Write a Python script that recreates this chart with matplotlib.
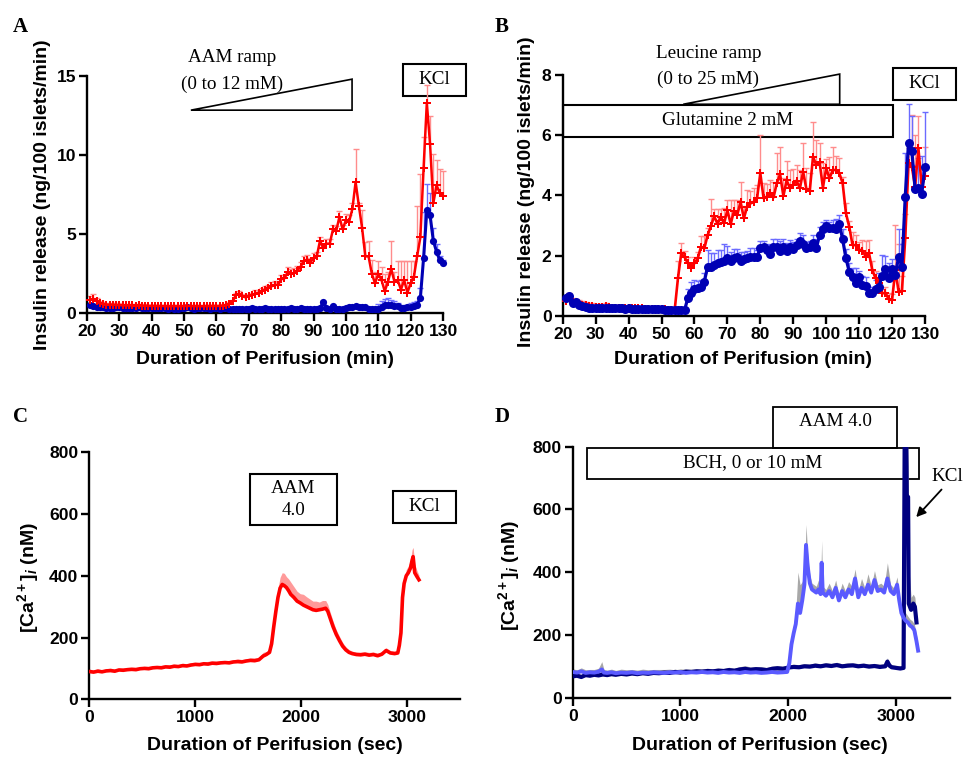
import numpy as np
import matplotlib
matplotlib.use("Agg")
import matplotlib.pyplot as plt
from matplotlib.patches import Rectangle, Polygon

plt.rcParams['font.family'] = ['Liberation Sans', 'DejaVu Sans']
plt.rcParams['font.weight'] = 'bold'
plt.rcParams['mathtext.fontset'] = 'custom'
plt.rcParams['mathtext.rm'] = 'Liberation Sans:bold'
plt.rcParams['mathtext.it'] = 'Liberation Sans:bold:italic'
plt.rcParams['mathtext.bf'] = 'Liberation Sans:bold'

# ---------------- data ----------------
minutes = list(range(21, 131))

a_red = [0.85, 0.9, 0.75, 0.65, 0.6, 0.55, 0.55, 0.55, 0.52, 0.52,
         0.5, 0.5, 0.5, 0.5, 0.48, 0.5, 0.48, 0.48, 0.47, 0.47,
         0.47, 0.46, 0.46, 0.46, 0.45, 0.45, 0.46, 0.45, 0.45, 0.46,
         0.47, 0.46, 0.45, 0.46, 0.45, 0.45, 0.46, 0.46, 0.47, 0.46,
         0.47, 0.48, 0.5, 0.6, 0.75, 1.15, 1.25, 1.1, 1.0, 1.1,
         1.15, 1.25, 1.3, 1.4, 1.5, 1.6, 1.7, 1.8, 1.8, 2.15,
         2.2, 2.6, 2.5, 2.55, 2.7, 2.95, 3.3, 3.4, 3.2, 3.5,
         3.6, 4.6, 4.1, 4.4, 4.4, 5.3, 5.2, 6.1, 5.3, 5.9,
         5.8, 6.6, 8.3, 6.8, 5.4, 3.6, 3.6, 2.5, 1.9, 2.5,
         2.1, 1.4, 2.0, 2.8, 2.0, 2.1, 1.5, 2.1, 1.3, 1.9,
         2.3, 3.6, 4.8, 9.16, 13.3, 10.7, 6.95, 8.1, 7.6, 7.4]
a_red_err = [0.25, 0.3, 0.2, 0.15, 0.12, 0.1, 0.1, 0.1, 0.1, 0.1,
             0.08, 0.08, 0.08, 0.08, 0.08, 0.08, 0.08, 0.08, 0.08, 0.08,
             0.08, 0.08, 0.08, 0.08, 0.08, 0.08, 0.08, 0.08, 0.08, 0.08,
             0.08, 0.08, 0.08, 0.08, 0.08, 0.08, 0.08, 0.08, 0.08, 0.08,
             0.08, 0.08, 0.08, 0.1, 0.1, 0.15, 0.15, 0.15, 0.15, 0.15,
             0.15, 0.2, 0.2, 0.2, 0.2, 0.2, 0.25, 0.25, 0.2, 0.25,
             0.25, 0.3, 0.3, 0.3, 0.3, 0.3, 0.35, 0.3, 0.3, 0.3,
             0.3, 0.25, 0.3, 0.3, 0.3, 0.3, 0.3, 0.35, 0.3, 0.4,
             0.4, 0.4, 2.1, 0.2, 1.1, 0.9, 0.95, 0.85, 0.7, 0.8,
             0.8, 1.1, 0.6, 1.8, 0.6, 1.2, 1.8, 1.2, 2.0, 1.4,
             1.0, 3.2, 4.0, 2.0, 1.1, 1.8, 3.1, 1.6, 1.5, 1.6]
a_blue = [0.5, 0.45, 0.4, 0.4, 0.38, 0.36, 0.35, 0.35, 0.4, 0.38,
          0.36, 0.34, 0.34, 0.33, 0.32, 0.38, 0.35, 0.33, 0.32, 0.32,
          0.32, 0.31, 0.33, 0.32, 0.3, 0.32, 0.3, 0.3, 0.31, 0.33,
          0.38, 0.33, 0.3, 0.32, 0.35, 0.36, 0.32, 0.3, 0.33, 0.32,
          0.3, 0.32, 0.33, 0.3, 0.3, 0.28, 0.3, 0.28, 0.3, 0.3,
          0.32, 0.3, 0.28, 0.3, 0.32, 0.3, 0.3, 0.29, 0.3, 0.3,
          0.3, 0.3, 0.32, 0.3, 0.3, 0.32, 0.3, 0.29, 0.3, 0.3,
          0.3, 0.32, 0.7, 0.35, 0.25, 0.45, 0.3, 0.28, 0.3, 0.32,
          0.38, 0.42, 0.45, 0.42, 0.4, 0.38, 0.3, 0.25, 0.28, 0.3,
          0.4, 0.5, 0.55, 0.5, 0.48, 0.45, 0.35, 0.33, 0.4, 0.42,
          0.45, 0.55, 0.95, 3.5, 6.5, 6.2, 4.6, 3.9, 3.35, 3.15]
a_blue_err = [0.1, 0.1, 0.08, 0.08, 0.08, 0.08, 0.08, 0.08, 0.08, 0.08,
              0.08, 0.08, 0.08, 0.08, 0.08, 0.08, 0.08, 0.08, 0.08, 0.08,
              0.08, 0.08, 0.08, 0.08, 0.08, 0.08, 0.08, 0.08, 0.08, 0.08,
              0.08, 0.08, 0.08, 0.08, 0.08, 0.08, 0.08, 0.08, 0.08, 0.08,
              0.08, 0.08, 0.08, 0.08, 0.08, 0.08, 0.08, 0.08, 0.08, 0.08,
              0.08, 0.08, 0.08, 0.08, 0.08, 0.08, 0.08, 0.08, 0.08, 0.08,
              0.08, 0.08, 0.08, 0.08, 0.08, 0.08, 0.08, 0.08, 0.08, 0.08,
              0.08, 0.08, 0.1, 0.08, 0.08, 0.08, 0.08, 0.08, 0.08, 0.1,
              0.1, 0.1, 0.1, 0.1, 0.1, 0.1, 0.1, 0.1, 0.1, 0.3,
              0.35, 0.4, 0.4, 0.35, 0.3, 0.2, 0.15, 0.15, 0.15, 0.2,
              0.25, 0.2, 0.65, 2.9, 1.7, 1.4, 0.8, 0.45, 0.3, 0.2]

b_red = [0.5, 0.6, 0.45, 0.42, 0.4, 0.38, 0.35, 0.33, 0.32, 0.3,
         0.3, 0.3, 0.32, 0.3, 0.28, 0.28, 0.28, 0.27, 0.27, 0.26,
         0.26, 0.25, 0.25, 0.25, 0.24, 0.24, 0.23, 0.23, 0.22, 0.22,
         0.22, 0.21, 0.2, 0.2, 1.26, 2.08, 1.95, 1.75, 1.6, 1.75,
         1.91, 2.3, 2.24, 2.68, 2.98, 3.31, 3.05, 3.29, 3.07, 3.51,
         3.05, 3.48, 3.35, 3.79, 3.24, 3.62, 3.73, 3.79, 3.9, 4.73,
         3.9, 3.96, 4.07, 3.93, 4.4, 4.7, 3.98, 4.5, 4.23, 4.34,
         4.49, 4.23, 4.78, 4.2, 4.15, 5.28, 5.0, 5.1, 4.26, 4.9,
         4.56, 4.84, 4.84, 4.73, 4.4, 3.4, 2.96, 2.35, 2.35, 2.2,
         2.17, 1.97, 2.08, 1.52, 1.25, 1.08, 0.75, 0.77, 0.55, 0.53,
         1.52, 0.8, 0.84, 2.57, 5.06, 4.95, 4.29, 5.56, 4.29, 4.64]
b_red_err = [0.12, 0.15, 0.15, 0.15, 0.12, 0.12, 0.12, 0.1, 0.1, 0.1,
             0.1, 0.1, 0.1, 0.08, 0.08, 0.08, 0.08, 0.08, 0.07, 0.07,
             0.07, 0.06, 0.06, 0.06, 0.06, 0.05, 0.05, 0.05, 0.05, 0.05,
             0.05, 0.05, 0.05, 0.05, 0.55, 0.33, 0.2, 0.2, 0.15, 0.2,
             0.2, 0.35, 0.4, 0.25, 0.9, 0.25, 0.5, 0.25, 0.5, 0.35,
             0.8, 0.35, 0.5, 0.65, 0.4, 0.55, 0.4, 0.45, 0.45, 1.27,
             0.5, 0.4, 0.45, 0.5, 1.0, 0.9, 0.6, 0.65, 0.6, 0.55,
             0.5, 0.6, 0.95, 0.7, 0.6, 1.15, 0.85, 0.65, 0.8, 0.3,
             0.7, 0.75, 0.45, 0.5, 0.2, 0.35, 0.2, 0.45, 0.35, 0.25,
             0.35, 0.5, 0.45, 0.3, 0.25, 0.2, 0.15, 0.2, 0.2, 0.2,
             1.5, 1.6, 0.5, 0.8, 0.5, 1.7, 1.7, 1.07, 0.6, 0.95]
b_blue = [0.6, 0.66, 0.42, 0.48, 0.38, 0.33, 0.3, 0.28, 0.27, 0.27,
          0.26, 0.28, 0.27, 0.26, 0.25, 0.25, 0.26, 0.25, 0.24, 0.25,
          0.24, 0.24, 0.23, 0.23, 0.22, 0.22, 0.23, 0.22, 0.22, 0.22,
          0.21, 0.21, 0.2, 0.2, 0.2, 0.2, 0.2, 0.59, 0.77, 0.88,
          0.92, 0.95, 1.14, 1.64, 1.64, 1.69, 1.75, 1.8, 1.83, 1.91,
          1.83, 1.93, 1.97, 1.83, 1.88, 1.91, 1.97, 1.97, 1.95, 2.24,
          2.28, 2.19, 2.06, 2.3, 2.3, 2.17, 2.3, 2.17, 2.28, 2.21,
          2.35, 2.5, 2.39, 2.24, 2.3, 2.43, 2.24, 2.69, 2.87, 2.99,
          2.93, 2.93, 2.9, 3.05, 2.54, 1.91, 1.47, 1.28, 1.08, 1.3,
          1.03, 0.99, 0.75, 0.77, 0.88, 0.97, 1.33, 1.55, 1.25, 1.55,
          1.36, 1.97, 1.64, 3.96, 5.75, 5.48, 4.2, 4.23, 4.04, 4.95]
b_blue_err = [0.05, 0.05, 0.05, 0.05, 0.04, 0.04, 0.04, 0.04, 0.04, 0.04,
              0.04, 0.04, 0.04, 0.04, 0.04, 0.04, 0.04, 0.04, 0.04, 0.04,
              0.04, 0.04, 0.04, 0.04, 0.04, 0.04, 0.04, 0.04, 0.04, 0.04,
              0.04, 0.04, 0.04, 0.04, 0.04, 0.04, 0.04, 0.3, 0.35, 0.3,
              0.25, 0.25, 0.3, 0.55, 0.45, 0.4, 0.45, 0.4, 0.55, 0.4,
              0.3, 0.3, 0.25, 0.3, 0.25, 0.25, 0.3, 0.3, 0.25, 0.25,
              0.2, 0.2, 0.3, 0.25, 0.25, 0.3, 0.25, 0.25, 0.25, 0.25,
              0.2, 0.25, 0.3, 0.2, 0.2, 0.25, 0.3, 0.25, 0.25, 0.2,
              0.2, 0.25, 0.3, 0.3, 0.35, 0.3, 0.3, 0.3, 0.5, 0.2,
              0.3, 0.3, 0.2, 0.2, 0.3, 0.45, 0.7, 0.45, 0.5, 0.35,
              0.3, 0.9, 0.75, 1.45, 1.28, 1.15, 0.8, 1.0, 1.25, 1.8]

c_time = [0, 40, 80, 120, 160, 200, 240, 280, 320, 360,
          400, 440, 480, 520, 560, 600, 640, 680, 720, 760,
          800, 840, 880, 920, 960, 1000, 1040, 1080, 1120, 1160,
          1200, 1240, 1280, 1320, 1360, 1400, 1440, 1480, 1520, 1560,
          1600, 1640, 1670, 1700, 1720, 1740, 1760, 1780, 1800, 1820,
          1840, 1860, 1880, 1900, 1930, 1960, 1990, 2020, 2050, 2080,
          2110, 2140, 2170, 2200, 2230, 2250, 2270, 2300, 2330, 2360,
          2390, 2420, 2450, 2480, 2520, 2560, 2600, 2640, 2680, 2720,
          2760, 2800, 2840, 2880, 2910, 2925, 2940, 2955, 2970, 2990,
          3010, 3030, 3045, 3055, 3070, 3090, 3110]
c_ca = [90, 88, 91, 89, 92, 93, 91, 95, 94, 96,
        97, 96, 99, 100, 99, 102, 103, 102, 105, 104,
        107, 106, 109, 108, 111, 113, 112, 115, 114, 117,
        116, 118, 119, 118, 121, 122, 121, 124, 126, 125,
        128, 140, 145, 152, 180, 235, 285, 330, 360, 372,
        368, 362, 352, 340, 330, 318, 312, 305, 300, 295,
        290, 288, 290, 292, 295, 285, 265, 235, 210, 190,
        172, 160, 152, 148, 145, 144, 146, 143, 145, 141,
        146, 158, 150, 148, 150, 175, 215, 330, 375, 400,
        410, 425, 450, 462, 410, 398, 387]
c_err = [8, 7, 8, 6, 7, 8, 7, 6, 8, 7,
         7, 8, 6, 7, 8, 7, 6, 8, 7, 8,
         7, 6, 8, 7, 8, 7, 8, 6, 9, 7,
         8, 7, 6, 8, 7, 9, 8, 7, 8, 9,
         8, 12, 10, 12, 15, 20, 25, 30, 35, 38,
         40, 35, 38, 40, 35, 32, 30, 35, 32, 30,
         28, 30, 25, 28, 25, 22, 20, 18, 15, 14,
         12, 10, 9, 8, 8, 9, 8, 9, 8, 9,
         8, 9, 8, 8, 9, 10, 12, 15, 18, 20,
         22, 25, 35, 30, 28, 20, 15]

d_time_ctrl = [0, 40, 80, 120, 160, 200, 240, 280, 320, 360,
               400, 450, 500, 550, 600, 650, 700, 750, 800, 850,
               900, 950, 1000, 1050, 1100, 1150, 1200, 1250, 1300, 1350,
               1400, 1450, 1500, 1550, 1600, 1650, 1700, 1750, 1800, 1850,
               1900, 1950, 2000, 2050, 2100, 2150, 2200, 2250, 2300, 2350,
               2400, 2450, 2500, 2550, 2600, 2650, 2700, 2750, 2800, 2850,
               2900, 2920, 2940, 2960, 3000, 3040, 3070, 3076, 3080, 3096,
               3100, 3112, 3118, 3140, 3160, 3175, 3190]
d_ca_ctrl = [68, 70, 66, 72, 70, 73, 71, 74, 72, 75,
             73, 76, 74, 77, 75, 78, 76, 79, 78, 80,
             79, 82, 80, 83, 82, 84, 83, 85, 84, 86,
             85, 88, 86, 90, 92, 89, 91, 90, 88, 92,
             94, 92, 96, 98, 97, 100, 99, 102, 100, 103,
             101, 104, 100, 102, 103, 100, 102, 99, 101, 98,
             100, 115, 102, 97, 95, 93, 95, 500, 800, 800,
             640, 640, 300, 280, 300, 290, 240]
d_err_ctrl = [8, 9, 8, 10, 8, 9, 8, 12, 8, 9,
              8, 9, 8, 9, 8, 9, 8, 9, 8, 9,
              8, 9, 8, 9, 8, 9, 8, 9, 8, 9,
              8, 9, 8, 9, 10, 9, 8, 9, 8, 9,
              8, 9, 8, 9, 8, 9, 8, 9, 8, 9,
              8, 9, 8, 9, 8, 9, 8, 9, 8, 9,
              8, 12, 9, 8, 8, 9, 8, 10, 10, 10,
              10, 170, 120, 40, 30, 30, 20]

d_time_bch = [0, 40, 80, 120, 160, 200, 240, 270, 290, 320,
              360, 400, 450, 500, 550, 600, 650, 700, 750, 800,
              850, 900, 950, 1000, 1050, 1100, 1150, 1200, 1250, 1300,
              1350, 1400, 1450, 1500, 1550, 1600, 1650, 1700, 1750, 1800,
              1850, 1900, 1950, 1990, 2010, 2030, 2050, 2070, 2090, 2110,
              2130, 2150, 2165, 2180, 2200, 2220, 2240, 2260, 2280, 2300,
              2310, 2320, 2350, 2380, 2410, 2440, 2470, 2500, 2530, 2560,
              2590, 2620, 2650, 2680, 2710, 2740, 2770, 2800, 2830, 2860,
              2890, 2920, 2950, 2980, 3010, 3030, 3050, 3070, 3090, 3110,
              3130, 3150, 3170, 3190, 3205]
d_ca_bch = [82, 80, 84, 79, 81, 80, 83, 90, 80, 79,
            81, 78, 80, 79, 81, 78, 80, 79, 81, 80,
            79, 81, 80, 82, 79, 81, 80, 82, 80, 81,
            79, 82, 80, 81, 79, 82, 80, 81, 79, 80,
            82, 80, 81, 82, 110, 170, 205, 235, 300, 270,
            310, 360, 487, 420, 365, 345, 340, 335, 345, 330,
            430, 335, 325, 340, 320, 350, 310, 340, 320, 345,
            330, 380, 320, 350, 330, 360, 335, 375, 340, 345,
            335, 380, 340, 330, 360, 310, 270, 255, 245, 240,
            230, 225, 215, 180, 150]
d_err_bch = [10, 9, 11, 10, 9, 10, 11, 25, 10, 9,
             10, 9, 11, 10, 9, 10, 11, 10, 9, 10,
             11, 10, 9, 10, 11, 10, 9, 10, 11, 10,
             9, 10, 11, 10, 9, 10, 11, 10, 9, 10,
             11, 10, 9, 10, 15, 20, 30, 40, 100, 90,
             60, 40, 65, 40, 25, 20, 20, 20, 30, 25,
             70, 20, 20, 25, 20, 25, 20, 25, 20, 25,
             25, 30, 20, 30, 20, 35, 20, 30, 20, 20,
             20, 50, 20, 20, 25, 20, 20, 30, 25, 20,
             20, 20, 20, 20, 15]

a_xticks = [20, 30, 40, 50, 60, 70, 80, 90, 100, 110, 120, 130]
a_yticks = [0, 5, 10, 15]
b_yticks = [0, 2, 4, 6, 8]
cd_xticks = [0, 1000, 2000, 3000]
cd_yticks = [0, 200, 400, 600, 800]

# ---------------- figure ----------------
W, H = 965, 757
fig = plt.figure(figsize=(W / 100, H / 100), dpi=100)


def ax_at(l, t, r, b):
    return fig.add_axes([l / W, 1 - b / H, (r - l) / W, (b - t) / H])


def style(ax):
    for s in ['top', 'right']:
        ax.spines[s].set_visible(False)
    for s in ['left', 'bottom']:
        ax.spines[s].set_linewidth(1.7)
    ax.tick_params(width=1.7, length=6, labelsize=12.6, pad=2)


SERIF = 'Liberation Serif'
RED = '#ff0000'
RED_E = '#ff8c8c'
BLUE = '#0000b4'
BLUE_E = '#6b6bff'


def up_err(ax, x, y, e, color, capw=5):
    x = np.asarray(x, float)
    y = np.asarray(y, float)
    e = np.asarray(e, float)
    ax.vlines(x, y, y + e, colors=color, lw=1.0, zorder=2, clip_on=False)
    ax.plot(x, y + e, ls='none', marker='_', ms=capw, mew=1.0, color=color,
            zorder=2, clip_on=False)


def stext(ax, x, y, s, size=13.8, **kw):
    ax.text(x, y, s, ha='center', va='center', fontfamily=SERIF,
            fontweight='normal', fontsize=size, clip_on=False, **kw)


# ---- Panel A ----
axA = ax_at(87, 76, 443, 313.3)
style(axA)
up_err(axA, minutes, a_red, a_red_err, RED_E)
up_err(axA, minutes, a_blue, a_blue_err, BLUE_E)
axA.plot(minutes, a_red, color=RED, lw=1.8, marker='P', ms=6, mew=0,
         zorder=4, clip_on=False)
axA.plot(minutes, a_blue, color=BLUE, lw=2.2, marker='o', ms=5.2, mew=0,
         zorder=3, clip_on=False)
axA.set_xlim(20, 130)
axA.set_ylim(0, 15)
axA.set_xticks(a_xticks)
axA.set_yticks(a_yticks)
stext(axA, 64.8, 16.2, "AAM ramp")
stext(axA, 64.8, 14.5, "(0 to 12 mM)")
axA.add_patch(Polygon([(52.1, 12.84), (101.9, 14.8), (101.9, 12.84)],
                      closed=True, fill=False, lw=1.2, ec='black', clip_on=False))
axA.add_patch(Rectangle((117.55, 13.75), 19.55, 2.0, fill=False, lw=1.5,
                        ec='black', clip_on=False, zorder=1))
stext(axA, 127.3, 14.75, "KCl")

# ---- Panel B ----
axB = ax_at(562.7, 74.7, 925, 316)
style(axB)
up_err(axB, minutes, b_red, b_red_err, RED_E)
up_err(axB, minutes, b_blue, b_blue_err, BLUE_E)
axB.plot(minutes, b_red, color=RED, lw=1.9, marker='P', ms=6, mew=0,
         zorder=3, clip_on=False)
axB.plot(minutes, b_blue, color=BLUE, lw=2.3, marker='o', ms=6.5, mew=0,
         zorder=4, clip_on=False)
axB.set_xlim(20, 130)
axB.set_ylim(0, 8)
axB.set_xticks(a_xticks)
axB.set_yticks(b_yticks)
stext(axB, 64.2, 8.71, "Leucine ramp")
stext(axB, 64.2, 7.83, "(0 to 25 mM)")
axB.add_patch(Polygon([(56.6, 7.02), (104.1, 8.02), (104.1, 7.02)],
                      closed=True, fill=False, lw=1.2, ec='black', clip_on=False))
axB.add_patch(Rectangle((20.2, 5.95), 100.1, 1.04, fill=False, lw=1.5,
                        ec='black', clip_on=False, zorder=1))
stext(axB, 70.2, 6.47, "Glutamine 2 mM")
axB.add_patch(Rectangle((120.3, 7.16), 19.2, 1.05, fill=False, lw=1.5,
                        ec='black', clip_on=False, zorder=1))
stext(axB, 129.9, 7.7, "KCl")

# ---- Panel C ----
axC = ax_at(89.3, 452.3, 460.3, 699.3)
style(axC)
c_t = np.asarray(c_time, float)
c_y = np.asarray(c_ca, float)
axC.fill_between(c_t, c_y, c_y + np.asarray(c_err, float), color='#ff9a9a',
                 lw=0, zorder=2)
axC.plot(c_t, c_y, color=RED, lw=2.6, zorder=3)
axC.set_xlim(0, 3500)
axC.set_ylim(0, 800)
axC.set_xticks(cd_xticks)
axC.set_yticks(cd_yticks)
axC.add_patch(Rectangle((1516, 565.5), 818, 164.2, fill=False, lw=1.5,
                        ec='black', clip_on=False))
stext(axC, 1925, 683, "AAM")
stext(axC, 1925, 612, "4.0")
axC.add_patch(Rectangle((2862, 572), 597, 103.6, fill=False, lw=1.5,
                        ec='black', clip_on=False))
stext(axC, 3160, 626, "KCl")

# ---- Panel D ----
axD = ax_at(572.7, 446.7, 949.9, 697.7)
style(axD)
tn = np.asarray(d_time_ctrl, float)
yn = np.asarray(d_ca_ctrl, float)
tb = np.asarray(d_time_bch, float)
yb = np.asarray(d_ca_bch, float)
axD.fill_between(tn, yn, yn + np.asarray(d_err_ctrl, float), color='#a8a8a8',
                 lw=0, zorder=2)
axD.fill_between(tb, yb, yb + np.asarray(d_err_bch, float), color='#a8a8a8',
                 lw=0, zorder=2)
axD.add_patch(Rectangle((1861, 797), 1145, 130.5, fill=False, lw=1.3,
                        ec='black', clip_on=False, zorder=1))
axD.add_patch(Rectangle((135.5, 696), 3074.5, 101, fill=False, lw=1.3,
                        ec='black', clip_on=False, zorder=1))
axD.plot(tn, yn, color='#000080', lw=3.0, zorder=3)
axD.plot(tb, yb, color='#5a5aff', lw=2.8, zorder=4)
axD.set_xlim(0, 3500)
axD.set_ylim(0, 800)
axD.set_xticks(cd_xticks)
axD.set_yticks(cd_yticks)
stext(axD, 2434, 880, "AAM 4.0")
stext(axD, 1670, 749, "BCH, 0 or 10 mM")
axD.text(3325, 706, "KCl", ha='left', va='center', fontfamily=SERIF,
         fontweight='normal', fontsize=13.8, clip_on=False)
axD.annotate("", xy=(3170, 569), xytext=(3440, 670),
             arrowprops=dict(arrowstyle='-|>', color='black', lw=1.3,
                             mutation_scale=14),
             annotation_clip=False)

# ---- labels ----
LBL = 14
fig.text(264.5 / W, 1 - 359 / H, "Duration of Perifusion (min)", ha='center',
         va='center', fontsize=LBL)
fig.text(743.5 / W, 1 - 359 / H, "Duration of Perifusion (min)", ha='center',
         va='center', fontsize=LBL)
fig.text(274.5 / W, 1 - 746 / H, "Duration of Perifusion (sec)", ha='center',
         va='center', fontsize=LBL)
fig.text(760 / W, 1 - 746 / H, "Duration of Perifusion (sec)", ha='center',
         va='center', fontsize=LBL)
fig.text(42.7 / W, 1 - 195 / H, "Insulin release (ng/100 islets/min)",
         rotation=90, ha='center', va='center', fontsize=LBL)
fig.text(526.7 / W, 1 - 191.5 / H, "Insulin release (ng/100 islets/min)",
         rotation=90, ha='center', va='center', fontsize=LBL)
fig.text(28 / W, 1 - 577 / H, r"[Ca$^{2+}$]$_{i}$ (nM)",
         rotation=90, ha='center', va='center', fontsize=LBL)
fig.text(509 / W, 1 - 575 / H, r"[Ca$^{2+}$]$_{i}$ (nM)",
         rotation=90, ha='center', va='center', fontsize=LBL)

for letter, px, py in [("A", 13, 32), ("B", 495, 32), ("C", 13, 422), ("D", 495, 422)]:
    fig.text(px / W, 1 - py / H, letter, ha='left', va='baseline',
             fontfamily=SERIF, fontweight='bold', fontsize=15)

fig.savefig("out.png", dpi=100)
